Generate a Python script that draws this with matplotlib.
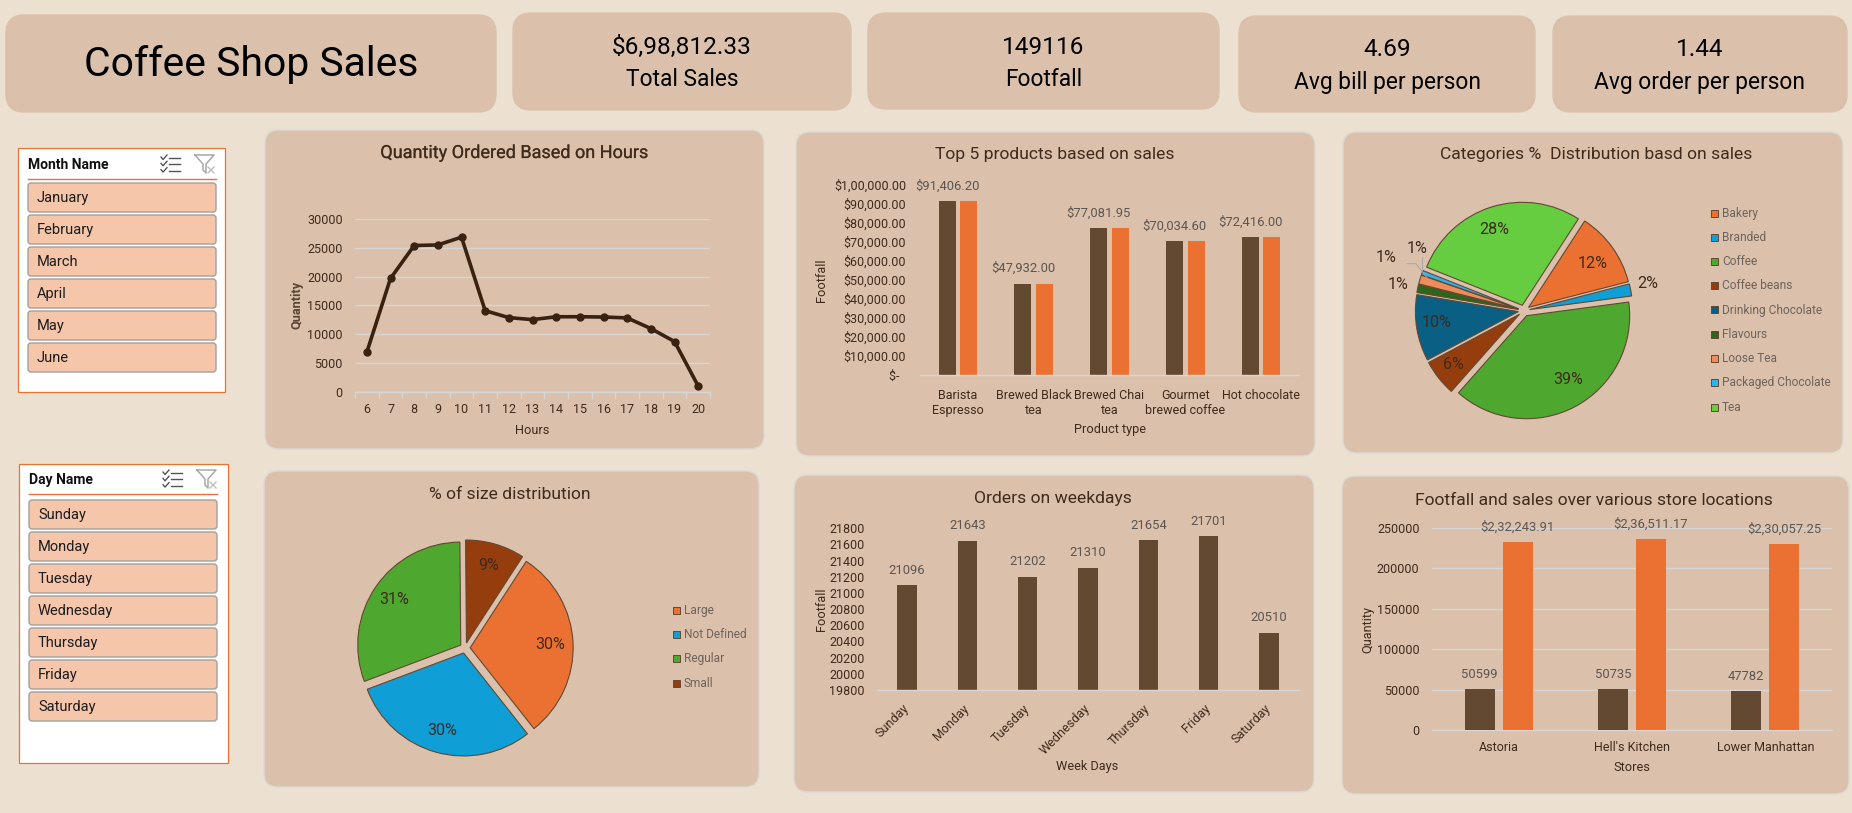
import numpy as np
import matplotlib
matplotlib.use('Agg')
from matplotlib import pyplot as plt
from matplotlib import patheffects
from matplotlib.patches import FancyBboxPatch, Rectangle

plt.rcParams['font.family'] = ['Roboto', 'DejaVu Sans']

W, H = 1852, 813

BG = '#ECE0D1'
PANEL = '#DBC1AC'
BORDER = '#DDD8D2'
DARK = '#634832'
ORANGE = '#EA7131'
INK = '#3F2A1B'
LABEL_GREY = '#5C5550'
GRID = '#D8D6D4'

# data
kpi_values = ['$6,98,812.33', '149116', '4.69', '1.44']
kpi_names = ['Total Sales', 'Footfall', 'Avg bill per person', 'Avg order per person']

months = ['January', 'February', 'March', 'April', 'May', 'June']
days = ['Sunday', 'Monday', 'Tuesday', 'Wednesday', 'Thursday', 'Friday', 'Saturday']

hours = ['6', '7', '8', '9', '10', '11', '12', '13', '14', '15', '16', '17', '18', '19', '20']
hour_qty = [6900, 19700, 25400, 25500, 26850, 14100, 12900, 12550, 13050, 13050, 13000, 12850, 11000, 8750, 1050]

products = ['Barista\nEspresso', 'Brewed Black\ntea', 'Brewed Chai\ntea', 'Gourmet\nbrewed coffee', 'Hot chocolate']
product_sales = [91406.20, 47932.00, 77081.95, 70034.60, 72416.00]
product_ticks = [0, 10000, 20000, 30000, 40000, 50000, 60000, 70000, 80000, 90000, 100000]
product_ticklabels = ['$-  ', '$10,000.00', '$20,000.00', '$30,000.00', '$40,000.00', '$50,000.00',
                      '$60,000.00', '$70,000.00', '$80,000.00', '$90,000.00', '$1,00,000.00']

categories = ['Bakery', 'Branded', 'Coffee', 'Coffee beans', 'Drinking Chocolate', 'Flavours',
              'Loose Tea', 'Packaged Chocolate', 'Tea']
category_share = [11.8, 1.9, 38.6, 5.7, 10.4, 1.3, 1.4, 0.7, 28.1]
category_colors = ['#EA7131', '#0F9ED5', '#4EA72E', '#963D0E', '#0A5F85', '#2F641B', '#EE8C5B', '#2DB4EF', '#66CC40']

sizes = ['Large', 'Not Defined', 'Regular', 'Small']
size_share = [30.2, 29.9, 30.6, 9.3]
size_colors = ['#EA7131', '#0F9ED5', '#4EA72E', '#963D0E']

weekday_orders = [21096, 21643, 21202, 21310, 21654, 21701, 20510]
weekday_ticks = [19800, 20000, 20200, 20400, 20600, 20800, 21000, 21200, 21400, 21600, 21800]

stores = ['Astoria', "Hell's Kitchen", 'Lower Manhattan']
store_footfall = [50599, 50735, 47782]
store_sales = [232243.91, 236511.17, 230057.25]
store_sales_labels = ['$2,32,243.91', '$2,36,511.17', '$2,30,057.25']
store_ticks = [0, 50000, 100000, 150000, 200000, 250000]

fig = plt.figure(figsize=(W / 100, H / 100), dpi=100, facecolor=BG)

# whole-figure axes in pixel coordinates, used for cards and slicers
bg = fig.add_axes([0, 0, 1, 1], zorder=0)
bg.set_xlim(0, W)
bg.set_ylim(H, 0)
bg.axis('off')


def card(x0, y0, x1, y1, r=14, edge=BORDER):
    bg.add_patch(FancyBboxPatch((x0 + r, y0 + r), x1 - x0 - 2 * r, y1 - y0 - 2 * r,
                                boxstyle='round,pad=%d,rounding_size=%d' % (r, r),
                                fc=PANEL, ec=edge, lw=1))


def axes_px(x0, y0, x1, y1):
    ax = fig.add_axes([x0 / W, 1 - y1 / H, (x1 - x0) / W, (y1 - y0) / H], zorder=2)
    ax.patch.set_alpha(0)
    return ax


def style_axes(ax, xlabel, xlabel_pos, ylabel, ylabel_pos, xpad, ypad):
    for s in ['top', 'left', 'right']:
        ax.spines[s].set_visible(False)
    ax.spines['bottom'].set_color(GRID)
    ax.spines['bottom'].set_linewidth(1)
    ax.tick_params(axis='both', length=0, labelsize=9, colors=INK)
    ax.tick_params(axis='x', pad=xpad)
    ax.tick_params(axis='y', pad=ypad)
    ax.set_xlabel(xlabel, fontsize=9.2, color=INK, va='center', ha='center')
    ax.xaxis.set_label_coords(xlabel_pos[0], xlabel_pos[1], transform=bg.transData)
    ax.set_ylabel(ylabel, fontsize=9.2, color=INK, va='center', ha='center')
    ax.yaxis.set_label_coords(ylabel_pos[0], ylabel_pos[1], transform=bg.transData)


def chart_title(x, y, s, size=12.6):
    return bg.text(x, y, s, fontsize=size, color=INK, ha='center', va='center', zorder=5)


def bar_labels(ax, rects, labels, dy=15):
    for rect, lab in zip(rects, labels):
        ax.annotate(lab, (rect.get_x() + rect.get_width() / 2, rect.get_height()),
                    xytext=(0, dy * 0.72), textcoords='offset points',
                    ha='center', va='center', fontsize=9.4, color=LABEL_GREY)


def legend_px(x, y0, pitch, labels, colors):
    for i, (lab, col) in enumerate(zip(labels, colors)):
        y = y0 + i * pitch
        bg.add_patch(Rectangle((x, y - 3.5), 7, 7, fc=col, ec=DARK, lw=0.7, zorder=3))
        bg.text(x + 11, y, lab, fontsize=8.6, color='#6E635B', va='center', ha='left', zorder=3)


def slicer(x0, y0, x1, y1, title, items, item_x0, item_x1, item_y0, line_y, icon_x):
    bg.add_patch(Rectangle((x0, y0), x1 - x0, y1 - y0, fc='white', ec=ORANGE, lw=0.9))
    bg.text(item_x0, line_y - 14, title, fontsize=10, weight='bold', color='#111111', va='center')
    bg.plot([item_x0, item_x1], [line_y, line_y], color=ORANGE, lw=1)
    for i, name in enumerate(items):
        top = item_y0 + i * 32
        bg.add_patch(FancyBboxPatch((item_x0 + 2, top + 2), item_x1 - item_x0 - 4, 25,
                                    boxstyle='round,pad=2,rounding_size=3',
                                    fc='#F6C6AB', ec='#A3A09C', lw=1))
        bg.text(item_x0 + 9, top + 14.5, name, fontsize=10.5, color='#1C1C1C', va='center')
    # select-all and clear-filter icons
    iy = line_y - 24
    for k in range(3):
        y = iy + 3 + k * 6.3
        bg.plot([icon_x + 8, icon_x + 19], [y, y], color='#555555', lw=1)
        bg.plot([icon_x, icon_x + 2, icon_x + 6], [y - 1, y + 1.5, y - 3], color='#444444', lw=0.9)
    fx = icon_x + 34
    bg.plot([fx, fx + 19, fx + 11, fx + 11, fx + 8, fx + 8, fx], [iy, iy, iy + 9, iy + 18, iy + 15, iy + 9, iy],
            color='#A8A8A8', lw=1.1)
    bg.plot([fx + 13, fx + 19], [iy + 12, iy + 18], color='#BDBDBD', lw=1)
    bg.plot([fx + 19, fx + 13], [iy + 12, iy + 18], color='#BDBDBD', lw=1)


# top row
card(6, 15, 496, 112, r=18, edge=PANEL)
bg.text(251, 65, 'Coffee Shop Sales', fontsize=29.4, color='black', ha='center', va='center')
kpi_boxes = [(513, 13, 851, 110), (868, 13, 1219, 109), (1239, 16, 1535, 112), (1553, 16, 1847, 112)]
for box, val, name in zip(kpi_boxes, kpi_values, kpi_names):
    card(*box, r=18, edge=PANEL)
    cx = (box[0] + box[2]) / 2
    bg.text(cx, box[1] + 34, val, fontsize=17.6, color='black', ha='center', va='center')
    bg.text(cx, box[1] + 66, name, fontsize=16.4, color='black', ha='center', va='center')

# slicers
slicer(18, 148, 225, 392, 'Month Name', months, 28, 216, 183, 179, 161)
slicer(19, 464, 228, 763, 'Day Name', days, 29, 217, 500, 494, 163)

# chart cards
card(265, 130, 764, 449)
card(796, 132, 1315, 456)
card(1343, 132, 1843, 453)
card(264, 471, 759, 787)
card(794, 475, 1314, 792)
card(1342, 476, 1849, 794)

# quantity by hour
title = chart_title(514, 153, 'Quantity Ordered Based on Hours', size=13)
title.set_path_effects([patheffects.withStroke(linewidth=0.25, foreground='#7A6656')])
ax = axes_px(355, 219, 710, 392)
pos = np.arange(len(hours))
ax.plot(pos, hour_qty, color='#3A2211', lw=2.6, marker='o', ms=5, zorder=3)
ax.set_xlim(-0.5, len(hours) - 0.5)
ax.set_ylim(0, 30000)
ax.set_xticks(pos, hours)
ax.set_yticks(np.arange(0, 30001, 5000))
ax.grid(axis='y', color=GRID, lw=1)
ax.set_axisbelow(True)
style_axes(ax, 'Hours', (532, 430), 'Quantity', (297, 305), 8, 9)
ax.yaxis.label.set_fontweight('bold')
ax.yaxis.label.set_color('#5A4636')
ax.set_xticks(np.arange(-0.5, len(hours)), minor=True)
ax.tick_params(axis='x', which='minor', length=4, color=GRID, width=1)

# top products
chart_title(1055, 154, 'Top 5 products based on sales')
ax = axes_px(920, 184.3, 1299, 375)
pos = np.arange(len(products))
bars_a = ax.bar(pos - 0.142, product_sales, width=0.224, color=DARK)
bars_b = ax.bar(pos + 0.142, product_sales, width=0.224, color=ORANGE)
ax.set_xlim(-0.5, len(products) - 0.5)
ax.set_ylim(0, 100000)
ax.set_xticks(pos, products)
ax.set_yticks(product_ticks, product_ticklabels)
style_axes(ax, 'Product type', (1110, 429), 'Footfall', (822, 280), 10, 10)
bar_labels(ax, bars_a, ['$%s' % format(v, ',.2f') for v in product_sales])

# category pie
chart_title(1596, 155, 'Categories %  Distribution basd on sales')
R = 103
cx, cy = 1524, 310.7
ax = axes_px(cx - 140, cy - 140, cx + 140, cy + 140)
wedges, _ = ax.pie(category_share, colors=category_colors, startangle=90 - 33, counterclock=False,
                   explode=[0.055] * len(category_share), radius=1,
                   wedgeprops=dict(edgecolor=DARK, linewidth=0.8))
ax.set_xlim(-140 / R, 140 / R)
ax.set_ylim(-140 / R, 140 / R)
cat_label_xy = [(69, 47), (124, 27), (44, -69), (-71, -54), (-87, -12), (-126, 26), (-138, 53), (-107, 62), (-30, 81)]
for share, (lx, ly) in zip(category_share, cat_label_xy):
    ax.text(lx / R, ly / R, '%d%%' % round(share), fontsize=11.6, color=INK, ha='center', va='center')
ax.plot([-117.0 / R, -108 / R, -97 / R], [47 / R, 47 / R, 33 / R], color='#A9A6A3', lw=0.7)
ax.plot([-101.6 / R, -101.6 / R], [54 / R, 41 / R], color='#A9A6A3', lw=0.7)
legend_px(1711, 213, 24.25, categories, category_colors)

# size pie
chart_title(510, 494, '% of size distribution')
R = 103
cx, cy = 465, 648
ax = axes_px(cx - 140, cy - 140, cx + 140, cy + 140)
ax.pie(size_share, colors=size_colors, startangle=90 - 33, counterclock=False,
       explode=[0.05] * len(size_share), radius=1, autopct='%.0f%%', pctdistance=0.78,
       wedgeprops=dict(edgecolor=DARK, linewidth=0.8),
       textprops=dict(fontsize=11.6, color=INK))
ax.set_xlim(-140 / R, 140 / R)
ax.set_ylim(-140 / R, 140 / R)
legend_px(672.6, 610.7, 24.1, sizes, size_colors)

# orders on weekdays
chart_title(1053, 498, 'Orders on weekdays')
ax = axes_px(877, 528.3, 1299, 690)
pos = np.arange(len(days))
bars_a = ax.bar(pos, weekday_orders, width=0.32, color=DARK)
ax.set_xlim(-0.5, len(days) - 0.5)
ax.set_ylim(19800, 21800)
ax.set_xticks(pos, days, rotation=45, ha='right', va='center', rotation_mode='anchor')
ax.set_yticks(weekday_ticks)
style_axes(ax, 'Week Days', (1087, 766), 'Footfall', (821, 609), 12, 9)
bar_labels(ax, bars_a, [str(v) for v in weekday_orders])

# stores
chart_title(1594, 500, 'Footfall and sales over various store locations')
ax = axes_px(1432, 528, 1832, 730)
pos = np.arange(len(stores))
bars_a = ax.bar(pos - 0.1425, store_footfall, width=0.225, color=DARK, zorder=3)
bars_b = ax.bar(pos + 0.1425, store_sales, width=0.225, color=ORANGE, zorder=3)
ax.set_xlim(-0.5, len(stores) - 0.5)
ax.set_ylim(0, 250000)
ax.set_xticks(pos, stores)
ax.set_yticks(store_ticks)
ax.grid(axis='y', color=GRID, lw=1)
ax.set_axisbelow(True)
style_axes(ax, 'Stores', (1632, 767), 'Quantity', (1368, 629), 8, 9)
bar_labels(ax, bars_a, [str(v) for v in store_footfall])
bar_labels(ax, bars_b, store_sales_labels)

fig.savefig('out.png', dpi=100, facecolor=BG)
